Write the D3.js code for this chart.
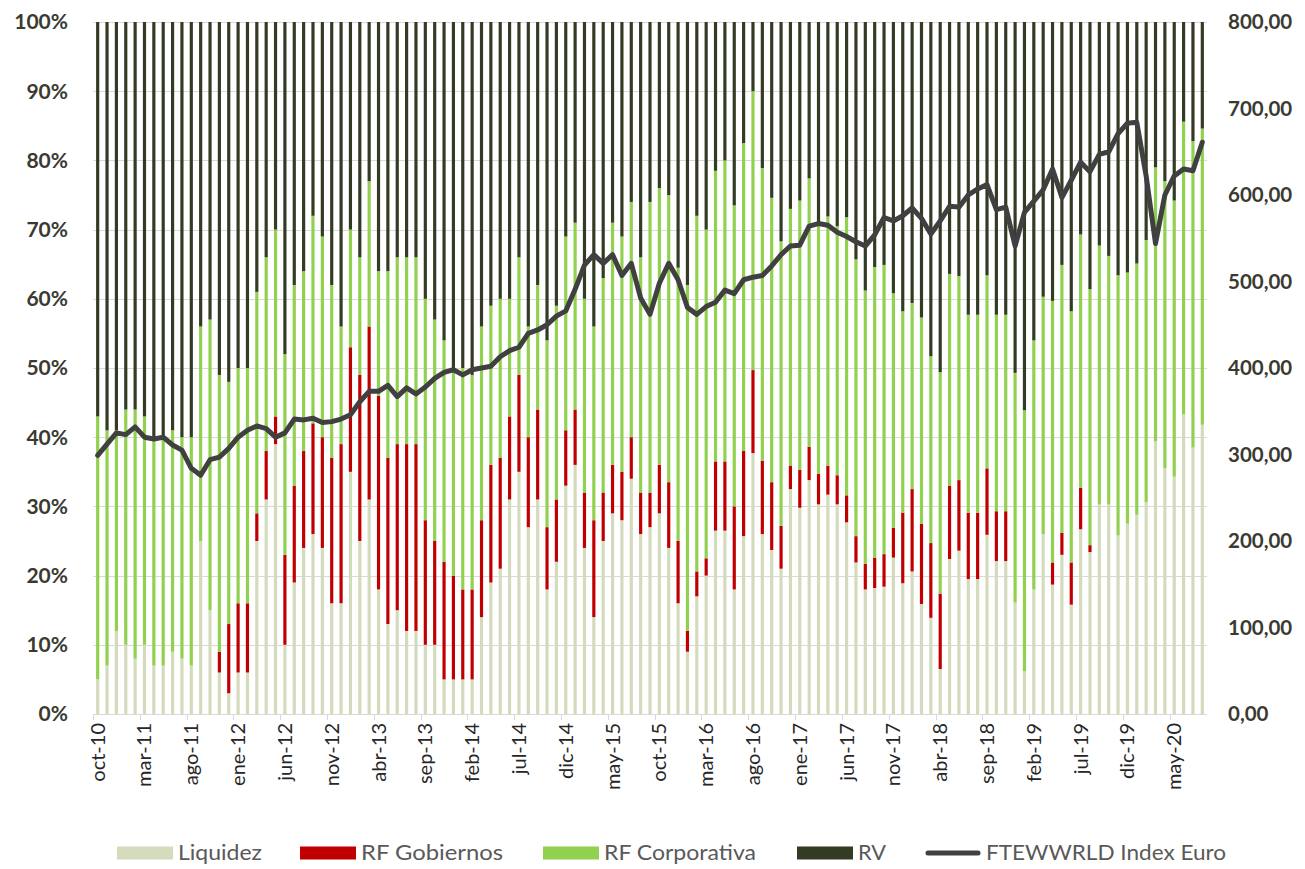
<!DOCTYPE html>
<html>
<head>
<meta charset="utf-8">
<script src="https://cdn.jsdelivr.net/npm/d3@7"></script>
<style>
  html, body { margin: 0; padding: 0; background: #ffffff; }
  svg { display: block; font-family: Lato, "Open Sans", sans-serif; }
</style>
</head>
<body>
<svg id="chart" width="1305" height="869"></svg>
<script>
// Monthly categories, oct-10 .. ago-20
const months = [
  "oct-10","nov-10","dic-10","ene-11","feb-11","mar-11","abr-11","may-11","jun-11","jul-11","ago-11","sep-11",
  "oct-11","nov-11","dic-11","ene-12","feb-12","mar-12","abr-12","may-12","jun-12","jul-12","ago-12","sep-12",
  "oct-12","nov-12","dic-12","ene-13","feb-13","mar-13","abr-13","may-13","jun-13","jul-13","ago-13","sep-13",
  "oct-13","nov-13","dic-13","ene-14","feb-14","mar-14","abr-14","may-14","jun-14","jul-14","ago-14","sep-14",
  "oct-14","nov-14","dic-14","ene-15","feb-15","mar-15","abr-15","may-15","jun-15","jul-15","ago-15","sep-15",
  "oct-15","nov-15","dic-15","ene-16","feb-16","mar-16","abr-16","may-16","jun-16","jul-16","ago-16","sep-16",
  "oct-16","nov-16","dic-16","ene-17","feb-17","mar-17","abr-17","may-17","jun-17","jul-17","ago-17","sep-17",
  "oct-17","nov-17","dic-17","ene-18","feb-18","mar-18","abr-18","may-18","jun-18","jul-18","ago-18","sep-18",
  "oct-18","nov-18","dic-18","ene-19","feb-19","mar-19","abr-19","may-19","jun-19","jul-19","ago-19","sep-19",
  "oct-19","nov-19","dic-19","ene-20","feb-20","mar-20","abr-20","may-20","jun-20","jul-20","ago-20"
];

// Labelled months on the category axis
const tickMonths = [
  "oct-10","mar-11","ago-11","ene-12","jun-12","nov-12","abr-13","sep-13","feb-14","jul-14","dic-14","may-15",
  "oct-15","mar-16","ago-16","ene-17","jun-17","nov-17","abr-18","sep-18","feb-19","jul-19","dic-19","may-20"
];

// Portfolio weights (%)
const liquidez = [
  5,7,12,10,8,10,7,7,9,8,7,25,
  15,6,3,6,6,25,31,39,10,19,24,26,
  24,16,16,35,25,31,18,13,15,12,12,10,
  10,5,5,5,5,14,19,21,31,35,27,31,
  18,22,33,36,24,14,25,29,28,34,26,27,
  29,24,16,9,17,20,26.5,26.5,18,25.7,37.7,26,
  23.7,21,32.5,29.8,33.8,30.3,31.7,30.3,27.7,21.9,18,18.2,
  18.4,22.6,18.9,20.6,15.9,13.9,6.5,22.4,23.6,19.5,19.5,25.9,
  22.1,22.1,16.1,6.2,18,26,18.7,23,15.8,26.7,23.4,30.3,
  30.3,25.8,27.5,28.8,30.6,39.4,35.5,34.3,43.3,38.5,41.8
];
const rfGobiernos = [
  0,0,0,0,0,0,0,0,0,0,0,0,
  0,3,10,10,10,4,7,4,13,14,14,16,
  16,21,23,18,24,25,28,24,24,27,27,18,
  15,17,15,13,13,14,17,16,12,14,13,13,
  9,9,8,8,8,14,7,7,7,6,6,5,
  7,9.5,9,3,3.6,2.5,10,10,12,12.3,12,10.6,
  9.8,6.2,3.4,5.5,4.8,4.4,4.2,4.2,3.9,3.8,3.7,4.4,
  4.7,4.3,10.2,11.9,11.6,10.8,10.9,10.6,10.2,9.6,9.6,9.6,
  7.2,7.2,0,0,0,0,3.2,3.2,6.1,6,1,0,
  0,0,0,0,0,0,0,0,0,0,0
];
const rfCorporativa = [
  38,34,29,34,36,33,33,33,32,32,33,31,
  42,40,35,34,34,32,28,27,29,29,26,30,
  29,25,17,17,17,21,18,27,27,27,27,32,
  32,32,30,32,31,28,23,23,17,17,16,18,
  27,28,28,27,28,28,31,35,34,34,34,42,
  40,41.5,39.5,50,51.4,47.5,42,43.5,43.5,44.5,40.3,42.3,
  41.1,41.1,37.1,38.9,38.8,35.9,36,36,40.2,40,39.5,42,
  41.8,33.9,29.1,26.9,29.8,27,32,30.6,29.5,28.6,28.6,27.9,
  28.4,28.4,33.2,37.7,36,34.3,37.8,38.7,36.3,36.6,37,37.4,
  35.9,37.6,36.3,36.3,37.9,39.6,41.5,39.9,42.3,44.3,42.8
];
const rentaVariable = [
  57,59,59,56,56,57,60,60,59,60,60,44,
  43,51,52,50,50,39,34,30,48,38,36,28,
  31,38,44,30,34,23,36,36,34,34,34,40,
  43,46,50,50,51,44,41,40,40,34,44,38,
  46,41,31,29,40,44,37,29,31,26,34,26,
  24,25,35.5,38,28,30,21.5,20,26.5,17.5,10,21.1,
  25.4,31.7,27,25.8,22.6,29.4,28.1,29.5,28.2,34.3,38.8,35.4,
  35.1,39.2,41.8,40.6,42.7,48.3,50.6,36.4,36.7,42.3,42.3,36.6,
  42.3,42.3,50.7,56.1,46,39.7,40.3,35.1,41.8,30.7,38.6,32.3,
  33.8,36.6,36.2,34.9,31.5,21,23,25.8,14.4,17.2,15.4
];

// FTEWWRLD Index in euros (right axis)
const indexEuro = [
  299,312,325,323,332,320,318,320,311,305,284,276,
  294,297,307,320,328,333,330,320,325,341,340,342,
  337,338,341,346,361,373,373,380,367,377,370,378,
  388,395,398,392,398,400,402,413,420,424,440,444,
  450,460,466,491,519,531,521,531,507,521,481,462,
  498,521,502,470,462,471,476,490,486,502,505,507,
  518,531,541,542,564,567,565,557,552,546,541,554,
  574,570,576,585,573,555,570,587,586,600,607,612,
  583,586,541,580,593,606,630,597,617,638,627,647,
  650,671,683,684,622,544,600,622,630,628,661
];

const seriesKeys = ["Liquidez", "RF Gobiernos", "RF Corporativa", "RV"];
const seriesValues = [liquidez, rfGobiernos, rfCorporativa, rentaVariable];
const seriesColors = ["#d4dbbd", "#c00000", "#92d050", "#333b24"];
const lineName = "FTEWWRLD Index Euro";
const lineColor = "#404040";

const leftTicks = [0, 0.1, 0.2, 0.3, 0.4, 0.5, 0.6, 0.7, 0.8, 0.9, 1];
const rightTicks = [0, 100, 200, 300, 400, 500, 600, 700, 800];

// Table for the stack layout
const rows = months.map((m, i) => {
  const r = { month: m };
  seriesKeys.forEach((k, j) => { r[k] = seriesValues[j][i]; });
  return r;
});

const svg = d3.select("#chart");
const plot = { left: 93, right: 1207, top: 22, bottom: 714 };

const x = d3.scaleBand()
  .domain(months)
  .range([plot.left, plot.right])
  .paddingInner(0.66)
  .paddingOuter(0.33);

const yPct = d3.scaleLinear().domain([0, 1]).range([plot.bottom, plot.top]);
const yIdx = d3.scaleLinear().domain([0, 800]).range([plot.bottom, plot.top]);

const esLocale = d3.formatLocale({ decimal: ",", thousands: ".", grouping: [3], currency: ["", " €"] });
const fmtPct = d3.format(".0%");
const fmtIdx = esLocale.format(",.2f");

// Horizontal gridlines
svg.append("g")
  .selectAll("line")
  .data(leftTicks)
  .join("line")
  .attr("x1", plot.left)
  .attr("x2", plot.right)
  .attr("y1", d => Math.round(yPct(d)) + 0.5)
  .attr("y2", d => Math.round(yPct(d)) + 0.5)
  .attr("stroke", "#d9d9d9")
  .attr("stroke-width", 1);

// Category axis ticks every five months (at band boundaries)
const step = x.step();
const tickIdx = tickMonths.map(m => months.indexOf(m));
svg.append("g")
  .selectAll("line")
  .data(tickIdx)
  .join("line")
  .attr("x1", i => Math.round(x(months[i]) - step * 0.33) + 0.5)
  .attr("x2", i => Math.round(x(months[i]) - step * 0.33) + 0.5)
  .attr("y1", plot.bottom)
  .attr("y2", plot.bottom + 6)
  .attr("stroke", "#d9d9d9");

// Stacked 100% bars
const stacked = d3.stack().keys(seriesKeys).offset(d3.stackOffsetExpand)(rows);
svg.append("g")
  .selectAll("g")
  .data(stacked)
  .join("g")
  .attr("fill", (d, i) => seriesColors[i])
  .selectAll("rect")
  .data(d => d)
  .join("rect")
  .attr("x", d => x(d.data.month))
  .attr("width", x.bandwidth())
  .attr("y", d => yPct(d[1]))
  .attr("height", d => Math.max(0, yPct(d[0]) - yPct(d[1])));

// Bottom axis line
svg.append("line")
  .attr("x1", plot.left).attr("x2", plot.right)
  .attr("y1", plot.bottom + 0.5).attr("y2", plot.bottom + 0.5)
  .attr("stroke", "#d9d9d9");

// Index line on the secondary axis
const line = d3.line()
  .x((d, i) => x(months[i]) + x.bandwidth() / 2)
  .y(d => yIdx(d));
svg.append("path")
  .datum(indexEuro)
  .attr("d", line)
  .attr("fill", "none")
  .attr("stroke", lineColor)
  .attr("stroke-width", 5)
  .attr("stroke-linejoin", "round")
  .attr("stroke-linecap", "round");

// Left axis labels
svg.append("g")
  .selectAll("text")
  .data(leftTicks)
  .join("text")
  .attr("x", 68)
  .attr("y", d => yPct(d))
  .attr("dy", "0.35em")
  .attr("text-anchor", "end")
  .attr("font-size", 21)
  .attr("font-weight", "bold")
  .attr("fill", "#3a3a30")
  .text(d => fmtPct(d));

// Right axis labels
svg.append("g")
  .selectAll("text")
  .data(rightTicks)
  .join("text")
  .attr("x", 1228)
  .attr("y", d => yIdx(d))
  .attr("dy", "0.35em")
  .attr("text-anchor", "start")
  .attr("font-size", 20.5)
  .attr("font-weight", "bold")
  .attr("fill", "#3a3a30")
  .text(d => fmtIdx(d));

// Rotated month labels
svg.append("g")
  .selectAll("text")
  .data(tickMonths)
  .join("text")
  .attr("transform", m => `translate(${x(m) + x.bandwidth() / 2},${plot.bottom + 9}) rotate(-90)`)
  .attr("dy", "0.35em")
  .attr("text-anchor", "end")
  .attr("font-size", 20)
  .attr("fill", "#262626")
  .text(m => m);

// Legend
const legendY = 853;
const legendItems = [
  { name: seriesKeys[0], color: seriesColors[0], x: 117, w: 84, type: "box" },
  { name: seriesKeys[1], color: seriesColors[1], x: 300, w: 142, type: "box" },
  { name: seriesKeys[2], color: seriesColors[2], x: 543, w: 152, type: "box" },
  { name: seriesKeys[3], color: seriesColors[3], x: 797, w: 28, type: "box" },
  { name: lineName, color: lineColor, x: 925, w: 240, type: "line" }
];
const lg = svg.append("g")
  .selectAll("g")
  .data(legendItems)
  .join("g")
  .attr("transform", d => `translate(${d.x},${legendY})`);
lg.filter(d => d.type === "box")
  .append("rect")
  .attr("x", 0).attr("y", -6.5)
  .attr("width", 56).attr("height", 13)
  .attr("fill", d => d.color);
lg.filter(d => d.type === "line")
  .append("line")
  .attr("x1", 3).attr("x2", 53)
  .attr("y1", 0).attr("y2", 0)
  .attr("stroke", d => d.color)
  .attr("stroke-width", 5)
  .attr("stroke-linecap", "round");
lg.append("text")
  .attr("x", 61)
  .attr("y", 0)
  .attr("dy", "0.35em")
  .attr("font-size", 21)
  .attr("fill", "#595959")
  .attr("textLength", d => d.w)
  .attr("lengthAdjust", "spacingAndGlyphs")
  .text(d => d.name);
</script>
</body>
</html>
